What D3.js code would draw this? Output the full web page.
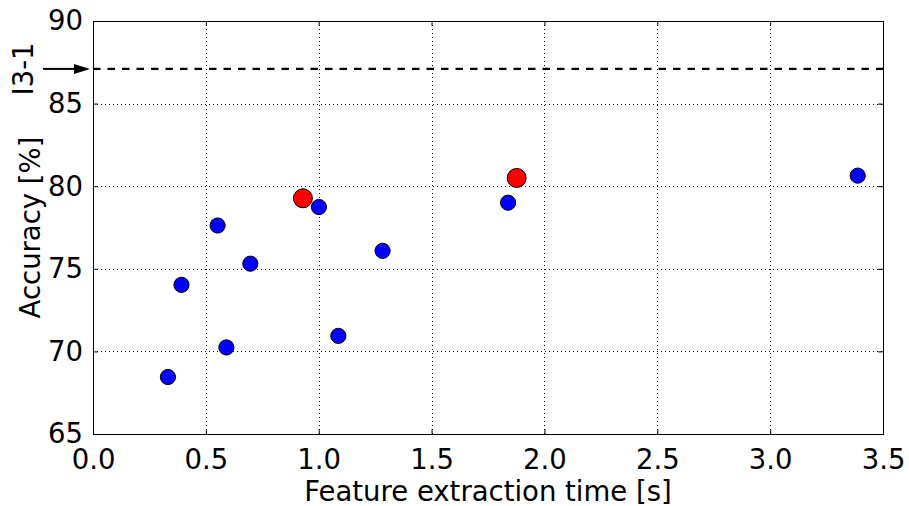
<!DOCTYPE html>
<html>
<head>
<meta charset="utf-8">
<script src="https://cdn.jsdelivr.net/npm/d3@7"></script>
<style>
  html, body { margin: 0; padding: 0; background: #fff; }
  svg { display: block; font-family: "DejaVu Sans", sans-serif; }
</style>
</head>
<body>
<svg id="chart" width="909" height="506"></svg>
<script>
  // feature extraction time [s] and accuracy [%]
  var blueTime = [0.332, 0.392, 0.552, 0.591, 0.697, 1.001, 1.087, 1.283, 1.839, 3.388];
  var blueAcc  = [68.45, 74.03, 77.62, 70.24, 75.31, 78.74, 70.94, 76.09, 79.00, 80.64];
  var redTime  = [0.930, 1.877];
  var redAcc   = [79.27, 80.50];
  var baselineAcc = 87.1;
  var baselineLabel = 'I3-1';
  var xTicks = [0, 0.5, 1, 1.5, 2, 2.5, 3, 3.5];
  var yTicks = [65, 70, 75, 80, 85, 90];

  (function () {
  var svg = d3.select('#chart');
  var pLeft = 93, pRight = 883, pTop = 21, pBottom = 434;
  var fontSize = '27.5px';

  var x = d3.scaleLinear().domain([0, 3.5]).range([pLeft, pRight]);
  var y = d3.scaleLinear().domain([65, 90]).range([pBottom, pTop]);

  // grid
  var grid = svg.append('g').attr('stroke', '#000').attr('stroke-width', 1)
    .attr('stroke-dasharray', '1,3').attr('shape-rendering', 'crispEdges');
  grid.selectAll('line.gx').data(xTicks.slice(1, -1)).join('line')
    .attr('x1', function (d) { return Math.round(x(d)) + 0.5; })
    .attr('x2', function (d) { return Math.round(x(d)) + 0.5; })
    .attr('y1', pTop).attr('y2', pBottom);
  grid.selectAll('line.gy').data(yTicks.slice(1, -1)).join('line')
    .attr('y1', function (d) { return Math.round(y(d)) + 0.5; })
    .attr('y2', function (d) { return Math.round(y(d)) + 0.5; })
    .attr('x1', pLeft).attr('x2', pRight);

  // baseline dashed line
  svg.append('line')
    .attr('x1', pLeft).attr('x2', pRight)
    .attr('y1', y(baselineAcc)).attr('y2', y(baselineAcc))
    .attr('stroke', '#000').attr('stroke-width', 2.4)
    .attr('stroke-dasharray', '7.5,7');

  // axes (ticks inward on all four sides)
  var tickLen = 5;
  var xAxisB = d3.axisBottom(x).tickValues(xTicks).tickSizeInner(-tickLen).tickSizeOuter(0)
    .tickPadding(15).tickFormat(d3.format('.1f'));
  var xAxisT = d3.axisTop(x).tickValues(xTicks).tickSizeInner(-tickLen).tickSizeOuter(0)
    .tickFormat('');
  var yAxisL = d3.axisLeft(y).tickValues(yTicks).tickSizeInner(-tickLen).tickSizeOuter(0)
    .tickPadding(10);
  var yAxisR = d3.axisRight(y).tickValues(yTicks).tickSizeInner(-tickLen).tickSizeOuter(0)
    .tickFormat('');

  function style(g) {
    g.select('.domain').remove();
    g.selectAll('.tick line').attr('stroke', '#000');
    g.selectAll('.tick text').attr('fill', '#000')
      .style('font-family', '"DejaVu Sans", sans-serif').style('font-size', fontSize);
  }
  svg.append('g').attr('transform', 'translate(0,' + pBottom + ')').call(xAxisB).call(style);
  svg.append('g').attr('transform', 'translate(0,' + pTop + ')').call(xAxisT).call(style);
  svg.append('g').attr('transform', 'translate(' + pLeft + ',0)').call(yAxisL).call(style);
  svg.append('g').attr('transform', 'translate(' + pRight + ',0)').call(yAxisR).call(style);

  // frame
  svg.append('rect')
    .attr('x', pLeft + 0.5).attr('y', pTop + 0.5)
    .attr('width', pRight - pLeft).attr('height', pBottom - pTop)
    .attr('fill', 'none').attr('stroke', '#000').attr('stroke-width', 1);

  // points
  var blue = blueTime.map(function (t, i) { return { t: t, a: blueAcc[i] }; });
  var red = redTime.map(function (t, i) { return { t: t, a: redAcc[i] }; });

  svg.append('g').selectAll('circle').data(blue).join('circle')
    .attr('cx', function (d) { return x(d.t); })
    .attr('cy', function (d) { return y(d.a); })
    .attr('r', 7.6)
    .attr('fill', '#0000ff').attr('stroke', '#000').attr('stroke-width', 1);

  svg.append('g').selectAll('circle').data(red).join('circle')
    .attr('cx', function (d) { return x(d.t); })
    .attr('cy', function (d) { return y(d.a); })
    .attr('r', 9.5)
    .attr('fill', '#ff0000').attr('stroke', '#000').attr('stroke-width', 1);

  // axis labels
  svg.append('text')
    .attr('x', (pLeft + pRight) / 2).attr('y', 501)
    .attr('text-anchor', 'middle')
    .style('font-size', fontSize)
    .text('Feature extraction time [s]');

  svg.append('text')
    .attr('transform', 'translate(40,' + (pTop + pBottom) / 2 + ') rotate(-90)')
    .attr('text-anchor', 'middle')
    .style('font-size', fontSize)
    .text('Accuracy [%]');

  // baseline annotation with arrow
  var ay = y(baselineAcc);
  svg.append('text')
    .attr('transform', 'translate(33,' + ay + ') rotate(-90)')
    .attr('text-anchor', 'middle')
    .style('font-size', fontSize)
    .text(baselineLabel);

  svg.append('line')
    .attr('x1', 43).attr('x2', x(0) - 18)
    .attr('y1', ay).attr('y2', ay)
    .attr('stroke', '#000').attr('stroke-width', 2);
  svg.append('path')
    .attr('d', 'M' + (x(0) - 3) + ',' + ay + 'L' + (x(0) - 19) + ',' + (ay - 5) +
      'L' + (x(0) - 19) + ',' + (ay + 5) + 'Z')
    .attr('fill', '#000');
  })();
</script>
</body>
</html>
